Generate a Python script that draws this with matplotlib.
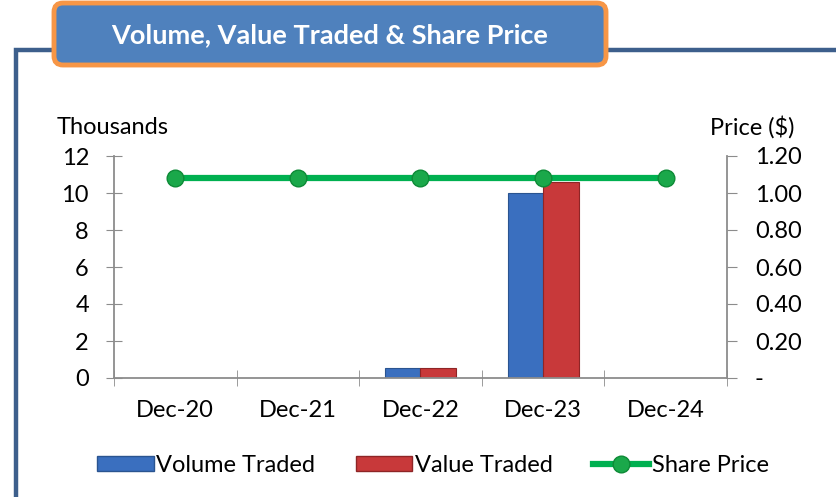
import numpy as np
import matplotlib.pyplot as plt
from matplotlib.patches import FancyBboxPatch, Rectangle
from matplotlib.lines import Line2D

plt.rcParams['font.family'] = ['Lato', 'DejaVu Sans']

years = ["Dec-20", "Dec-21", "Dec-22", "Dec-23", "Dec-24"]
volume = [0, 0, 0.55, 10.0, 0]        # thousands
value = [0, 0, 0.55, 10.6, 0]         # thousands
price = [1.08, 1.08, 1.08, 1.08, 1.08]

blue = "#3a6fbf"
red = "#c8393a"
green = "#00b050"
grid_col = "#8c8c8c"
fs = 17

W, H = 837, 497
fig = plt.figure(figsize=(W / 100, H / 100), dpi=100)

# background layer in pixel units for frame and title box
bg = fig.add_axes([0, 0, 1, 1])
bg.set_xlim(0, W)
bg.set_ylim(H, 0)
bg.axis("off")
bg.plot([16, 16, W], [H, 49.5, 49.5], color="#3d5f8c", lw=3.2,
        solid_joinstyle="miter", solid_capstyle="butt", zorder=1)
bg.add_patch(FancyBboxPatch((54, 3), 552, 62, boxstyle="round,pad=0,rounding_size=9",
                            facecolor="#4f81bd", edgecolor="#f79646", lw=3.5, zorder=3))
bg.text(330, 35, "Volume, Value Traded & Share Price", color="white",
        fontsize=19.5, fontweight="bold", ha="center", va="center", zorder=4)

ax = fig.add_axes([114 / W, 1 - 378 / H, 613 / W, 222 / H])
x = np.arange(len(years))
w = 0.29
ax.bar(x - w / 2, volume, w, color=blue, edgecolor="#2a5490", lw=0.8, zorder=2)
ax.bar(x + w / 2, value, w, color=red, edgecolor="#8e2526", lw=0.8, zorder=2)
ax.set_ylim(0, 12)
ax.set_xlim(-0.5, 4.5)
ax.set_yticks(range(0, 13, 2))
ax.set_xticks(x)
ax.set_xticklabels(years)
ax.set_xticks(np.arange(-0.5, 5, 1), minor=True)
ax.tick_params(axis="x", which="major", length=0, pad=16, labelsize=fs)
ax.tick_params(axis="x", which="minor", length=12, direction="inout", color=grid_col)
ax.tick_params(axis="y", length=12, direction="inout", color=grid_col, labelsize=fs, pad=12)
for s in ["top", "right"]:
    ax.spines[s].set_visible(False)
for s in ["left", "bottom"]:
    ax.spines[s].set_color(grid_col)
    ax.spines[s].set_linewidth(1.3)

ax2 = ax.twinx()
ax2.plot(x, price, color=green, lw=4.5, marker="o", markersize=12,
         markerfacecolor="#1aa84a", markeredgecolor="#0d8a36", zorder=3)
ax2.set_ylim(0, 1.2)
ax2.set_yticks(np.arange(0, 1.21, 0.2))
ax2.set_yticklabels(["-"] + ["%.2f" % v for v in np.arange(0.2, 1.21, 0.2)])
ax2.tick_params(axis="y", length=7, direction="out", color=grid_col, labelsize=fs, pad=13)
for s in ["top", "left", "bottom"]:
    ax2.spines[s].set_visible(False)
ax2.spines["right"].set_color(grid_col)
ax2.spines["right"].set_linewidth(1.3)

bg.text(57, 127, "Thousands", fontsize=fs, va="center", ha="left")
bg.text(795, 127, "Price ($)", fontsize=fs, va="center", ha="right")

handles = [
    Rectangle((0, 0), 1, 1, facecolor=blue, edgecolor="#2a5490"),
    Rectangle((0, 0), 1, 1, facecolor=red, edgecolor="#8e2526"),
    Line2D([], [], color=green, lw=4.5, marker="o", markersize=12,
           markerfacecolor="#1aa84a", markeredgecolor="#0d8a36"),
]
fig.legend(handles, ["Volume Traded", "Value Traded", "Share Price"],
           loc="center", bbox_to_anchor=(433 / W, 1 - 465 / H), ncol=3,
           frameon=False, fontsize=fs, handlelength=2.4, handleheight=0.6,
           handletextpad=0.1, columnspacing=1.7)

fig.savefig("out.png", dpi=100)
